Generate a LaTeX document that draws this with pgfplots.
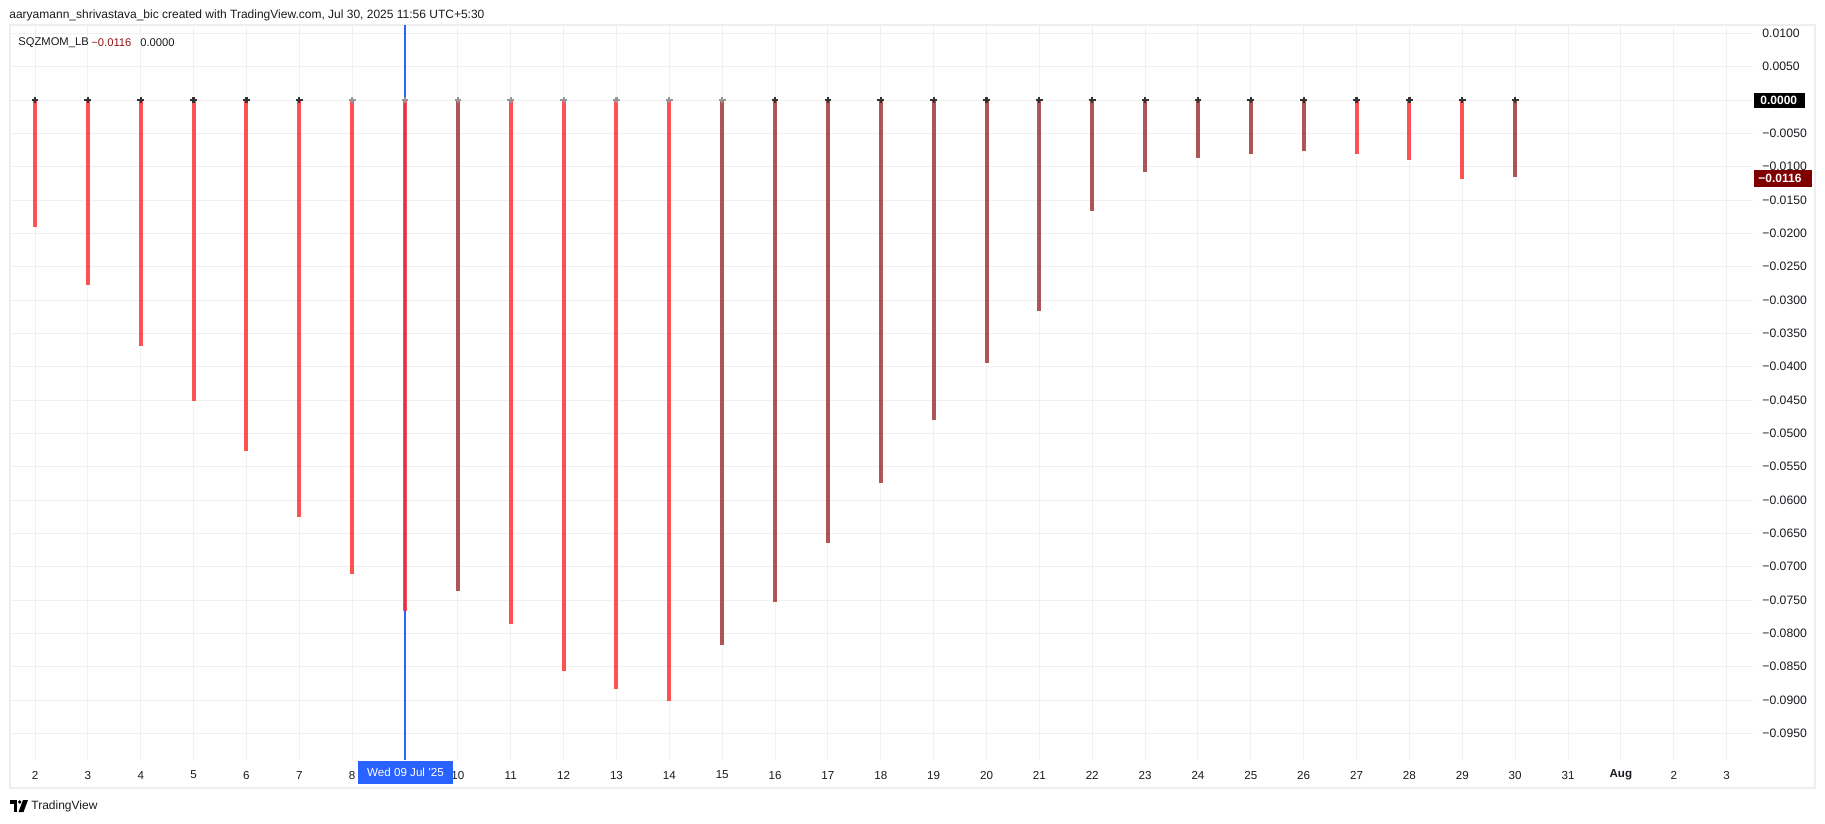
\documentclass[border=0pt]{standalone}
\usepackage{pgfplots}
\pgfplotsset{compat=1.18}
\usepackage{fontspec}
\setmainfont{Liberation Sans}
\definecolor{tvred}{RGB}{255,40,40}
\definecolor{tvmaroon}{RGB}{150,30,30}
\definecolor{tvblue}{RGB}{41,98,255}
\definecolor{gridc}{RGB}{240,240,240}
\definecolor{framec}{RGB}{238,238,238}
\definecolor{txt}{RGB}{25,27,32}
\definecolor{markdark}{RGB}{50,50,50}
\definecolor{markgray}{RGB}{150,150,150}
\definecolor{boxred}{RGB}{128,0,0}
\definecolor{legred}{RGB}{150,20,20}
\begin{document}
\begin{tikzpicture}
\begin{scope}[x=0.5pt,y=-0.5pt]
\fill[white] (0,0) rectangle (1825,824);
\draw[framec,line width=1pt] (10,25) rectangle (1815,788);
\end{scope}
\begin{axis}[
  at={(5pt,-380pt)}, anchor=south west,
  scale only axis, width=871.5pt, height=367.5pt,
  xmin=1.527, xmax=34.5, ymin=-0.099, ymax=0.01125,
  scaled y ticks=false, scaled x ticks=false,
  axis line style={draw=none},
  major tick length=0pt,
  clip=false,
  grid=major,
  major grid style={draw=gridc,line width=0.5pt},
  xtick={2,...,34},
  xticklabels={2,3,4,5,6,7,8,{},10,11,12,13,14,15,16,17,18,19,20,21,22,23,24,25,26,27,28,29,30,31,{\bfseries Aug},2,3},
  xticklabel style={anchor=center,yshift=-7.5pt,font=\fontsize{5.8}{6}\selectfont,text=txt},
  ytick={0.01,0.005,0,-0.005,-0.01,-0.015,-0.02,-0.025,-0.03,-0.035,-0.04,-0.045,-0.05,-0.055,-0.06,-0.065,-0.07,-0.075,-0.08,-0.085,-0.09,-0.095},
  yticklabels={0.0100,0.0050,0.0000,−0.0050,−0.0100,−0.0150,−0.0200,−0.0250,−0.0300,−0.0350,−0.0400,−0.0450,−0.0500,−0.0550,−0.0600,−0.0650,−0.0700,−0.0750,−0.0800,−0.0850,−0.0900,−0.0950},
  yticklabel pos=right,
  yticklabel style={anchor=west,inner sep=0pt,xshift=4.5pt,font=\fontsize{6.1}{6}\selectfont,text=txt},
]
% crosshair
\draw[tvblue,line width=1pt] (axis cs:9,0.01125) -- (axis cs:9,-0.099);
% falling momentum (bright red)
\addplot[ycomb, draw=tvred, draw opacity=0.8, line width=2pt, mark=none] coordinates {
(2,-0.0190) (3,-0.0278) (4,-0.0369) (5,-0.0452) (6,-0.0527) (7,-0.0625) (8,-0.0711) (9,-0.0767)
(11,-0.0786) (12,-0.0856) (13,-0.0883) (14,-0.0902)
(27,-0.0081) (28,-0.0090) (29,-0.0118)
};
% rising momentum (maroon)
\addplot[ycomb, draw=tvmaroon, draw opacity=0.75, line width=2pt, mark=none] coordinates {
(10,-0.0737)
(15,-0.0818) (16,-0.0753) (17,-0.0665) (18,-0.0575) (19,-0.0480) (20,-0.0395) (21,-0.0316)
(22,-0.0166) (23,-0.0108) (24,-0.0087) (25,-0.0081) (26,-0.0076)
(30,-0.0116)
};
% squeeze markers
\addplot[only marks, mark=+, mark size=1.7pt, mark options={line width=1.1pt, draw=markdark}] coordinates {
(2,0) (3,0) (4,0) (5,0) (6,0) (7,0)
(16,0) (17,0) (18,0) (19,0) (20,0) (21,0) (22,0) (23,0) (24,0) (25,0) (26,0) (27,0) (28,0) (29,0) (30,0)
};
\addplot[only marks, mark=+, mark size=1.7pt, mark options={line width=1.1pt, draw=markgray}] coordinates {
(8,0) (9,0) (10,0) (11,0) (12,0) (13,0) (14,0) (15,0)
};
\end{axis}
\begin{scope}[x=0.5pt,y=-0.5pt]
% header
\node[anchor=west,inner sep=0pt,text=txt,font=\fontsize{6}{6}\selectfont] at (9,15) {aaryamann\_shrivastava\_bic created with TradingView.com, Jul 30, 2025 11:56 UTC+5:30};
% legend
\node[anchor=west,inner sep=0pt,text=txt,font=\fontsize{5.6}{6}\selectfont] at (18,42.5) {SQZMOM\_LB};
\node[anchor=west,inner sep=0pt,text=legred,font=\fontsize{5.6}{6}\selectfont] at (91,42.5) {−0.0116};
\node[anchor=west,inner sep=0pt,text=txt,font=\fontsize{5.6}{6}\selectfont] at (140,42.5) {0.0000};
% price boxes
\fill[black] (1754,93) rectangle (1805,108);
\node[anchor=west,inner sep=0pt,text=white,font=\fontsize{6}{6}\selectfont\bfseries] at (1760,100.5) {0.0000};
\fill[boxred] (1754,170) rectangle (1812,187);
\node[anchor=west,inner sep=0pt,text=white,font=\fontsize{6}{6}\selectfont\bfseries] at (1758,178.5) {−0.0116};
% date box
\fill[tvblue] (358,761) rectangle (453,784);
\node[inner sep=0pt,text=white,font=\fontsize{5.8}{6}\selectfont] at (405.5,772.5) {Wed 09 Jul '25};
% logo
\fill[black] (10,800) rectangle (17,803.5);
\fill[black] (13.5,800) rectangle (17,812);
\fill[black] (19.8,802) circle (1.9);
\fill[black] (23,800) -- (28,800) -- (23.5,812) -- (18.5,812) -- cycle;
\node[anchor=west,inner sep=0pt,text=txt,font=\fontsize{6}{6}\selectfont] at (31,806.5) {TradingView};
\end{scope}
\pgfresetboundingbox
\path (0pt,0pt) rectangle (912.5pt,-412pt);
\end{tikzpicture}
\end{document}
